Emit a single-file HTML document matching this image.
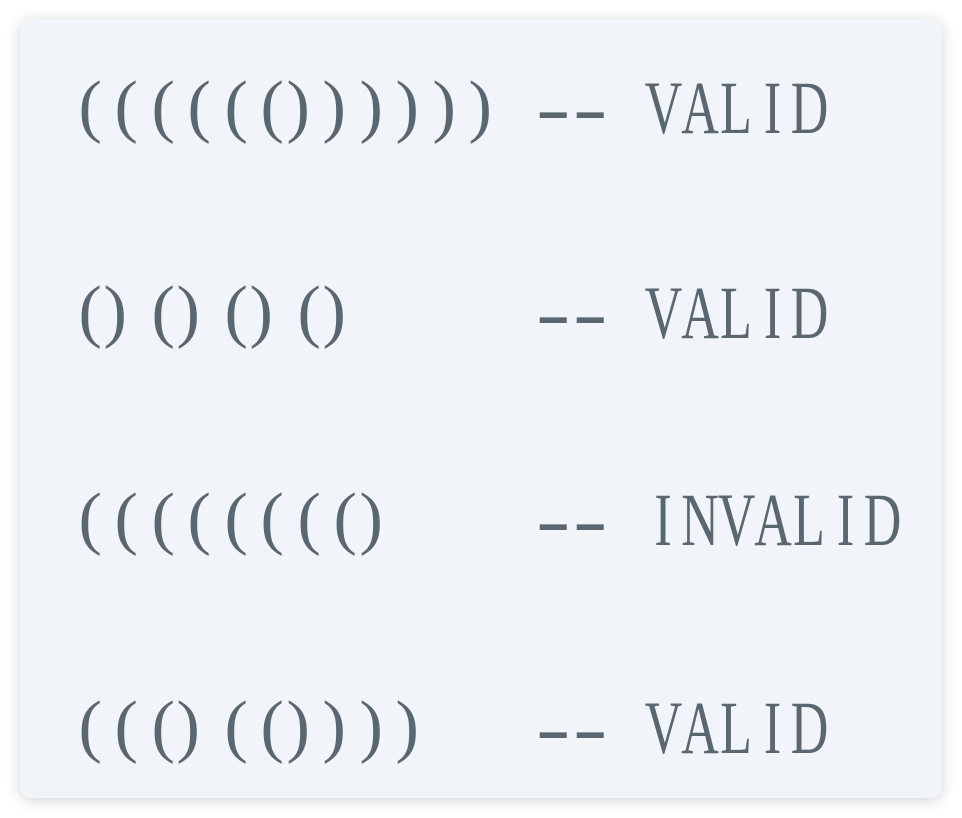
<!DOCTYPE html>
<html><head><meta charset="utf-8"><style>
html,body{margin:0;padding:0;background:#fff;width:962px;height:818px;overflow:hidden}
.card{position:absolute;left:20px;top:19px;width:922px;height:779px;background:#f1f4f8;border-radius:11px;box-shadow:0 2px 14px rgba(0,0,0,0.18)}
.ln{position:absolute;left:0;height:52px;width:962px;font-family:"Liberation Serif",serif;font-size:52px;line-height:52px;color:#5b6770;transform:scaleY(1.45);transform-origin:0 0;white-space:pre}
.ln span{position:absolute;top:0;width:36.5px;text-align:center}
.ln span.o,.ln span.c{transform:scale(1.35,0.92);transform-origin:50% 20%;font-weight:normal}
.ln span.o{margin-left:11px}
.ln span.d{transform:scaleX(2.0)}
</style></head><body>
<div class="card"></div>
<div class="ln" style="top:72px">
<span class="o" style="left:60.75px">(</span><span class="o" style="left:97.25px">(</span><span class="o" style="left:133.75px">(</span><span class="o" style="left:170.25px">(</span><span class="o" style="left:206.75px">(</span><span class="o" style="left:243.25px">(</span><span class="c" style="left:279.75px">)</span><span class="c" style="left:316.25px">)</span><span class="c" style="left:352.75px">)</span><span class="c" style="left:389.25px">)</span><span class="c" style="left:425.75px">)</span><span class="c" style="left:462.25px">)</span><span class="d" style="left:535.25px">-</span><span class="d" style="left:571.75px">-</span><span style="left:644.75px">V</span><span style="left:681.25px">A</span><span style="left:717.75px">L</span><span style="left:754.25px">I</span><span style="left:790.75px">D</span>
</div>
<div class="ln" style="top:277px">
<span class="o" style="left:60.75px">(</span><span class="c" style="left:97.25px">)</span><span class="o" style="left:133.75px">(</span><span class="c" style="left:170.25px">)</span><span class="o" style="left:206.75px">(</span><span class="c" style="left:243.25px">)</span><span class="o" style="left:279.75px">(</span><span class="c" style="left:316.25px">)</span><span class="d" style="left:535.25px">-</span><span class="d" style="left:571.75px">-</span><span style="left:644.75px">V</span><span style="left:681.25px">A</span><span style="left:717.75px">L</span><span style="left:754.25px">I</span><span style="left:790.75px">D</span>
</div>
<div class="ln" style="top:484px">
<span class="o" style="left:60.75px">(</span><span class="o" style="left:97.25px">(</span><span class="o" style="left:133.75px">(</span><span class="o" style="left:170.25px">(</span><span class="o" style="left:206.75px">(</span><span class="o" style="left:243.25px">(</span><span class="o" style="left:279.75px">(</span><span class="o" style="left:316.25px">(</span><span class="c" style="left:352.75px">)</span><span class="d" style="left:535.25px">-</span><span class="d" style="left:571.75px">-</span><span style="left:644.75px">I</span><span style="left:681.25px">N</span><span style="left:717.75px">V</span><span style="left:754.25px">A</span><span style="left:790.75px">L</span><span style="left:827.25px">I</span><span style="left:863.75px">D</span>
</div>
<div class="ln" style="top:692px">
<span class="o" style="left:60.75px">(</span><span class="o" style="left:97.25px">(</span><span class="o" style="left:133.75px">(</span><span class="c" style="left:170.25px">)</span><span class="o" style="left:206.75px">(</span><span class="o" style="left:243.25px">(</span><span class="c" style="left:279.75px">)</span><span class="c" style="left:316.25px">)</span><span class="c" style="left:352.75px">)</span><span class="c" style="left:389.25px">)</span><span class="d" style="left:535.25px">-</span><span class="d" style="left:571.75px">-</span><span style="left:644.75px">V</span><span style="left:681.25px">A</span><span style="left:717.75px">L</span><span style="left:754.25px">I</span><span style="left:790.75px">D</span>
</div>
</body></html>
